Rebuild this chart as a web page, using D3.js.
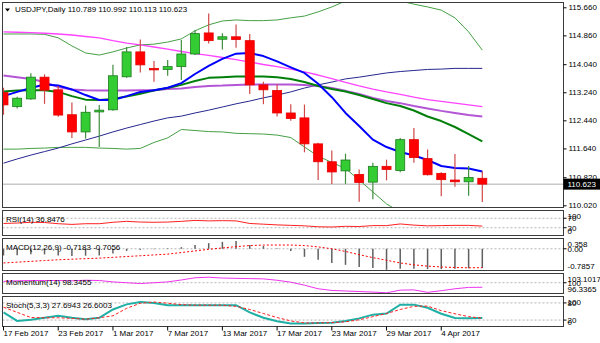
<!DOCTYPE html>
<html><head><meta charset="utf-8">
<script src="https://cdn.jsdelivr.net/npm/d3@7"></script>
<style>
html,body{margin:0;padding:0;background:#fff;}
svg{display:block;font-family:"Liberation Sans",Arial,sans-serif;font-size:8px;}
</style></head><body>
<svg id="chart" width="600" height="343"></svg>
<script>
// USDJPY daily bars
const dates = ["2017-02-17","2017-02-20","2017-02-21","2017-02-22","2017-02-23","2017-02-24","2017-02-27","2017-02-28",
  "2017-03-01","2017-03-02","2017-03-03","2017-03-06","2017-03-07","2017-03-08","2017-03-09","2017-03-10","2017-03-13",
  "2017-03-14","2017-03-15","2017-03-16","2017-03-17","2017-03-20","2017-03-21","2017-03-22","2017-03-23","2017-03-24",
  "2017-03-27","2017-03-28","2017-03-29","2017-03-30","2017-03-31","2017-04-03","2017-04-04","2017-04-05","2017-04-06","2017-04-07"];
const open  = [113.23,112.83,113.05,113.67,113.31,112.60,112.11,112.68,112.74,113.68,114.39,113.92,113.89,113.97,114.33,114.93,114.75,114.82,114.71,113.45,113.29,112.65,112.51,111.77,111.26,111.00,110.90,110.68,111.13,111.01,111.89,111.35,110.93,110.74,110.69,110.789];
const high  = [113.37,113.11,113.78,113.75,113.42,112.95,112.86,112.88,114.02,114.53,114.74,114.13,114.16,114.73,115.01,115.48,114.92,115.17,114.90,113.54,113.47,112.90,112.89,111.80,111.58,111.49,111.04,111.23,111.32,111.94,112.22,111.61,110.96,111.48,111.14,110.992];
const low   = [112.60,112.78,113.03,112.91,112.54,111.94,111.92,111.68,112.71,113.65,113.80,113.54,113.71,113.59,114.30,114.63,114.46,114.51,113.19,112.90,112.55,112.43,111.53,110.74,110.63,110.63,110.12,110.19,110.73,110.96,111.23,110.87,110.28,110.55,110.29,110.113];
const close = [112.88,113.07,113.67,113.30,112.59,112.11,112.67,112.73,113.71,114.39,114.02,113.88,113.97,114.33,114.91,114.71,114.82,114.74,113.45,113.31,112.65,112.49,111.77,111.26,110.97,111.31,110.67,111.13,111.04,111.89,111.38,110.89,110.75,110.69,110.81,110.623];

// moving averages and Bollinger bands
const maFast  = [113.13,113.25,113.36,113.46,113.43,113.32,113.16,113.02,113.02,113.13,113.25,113.30,113.37,113.50,113.76,113.99,114.19,114.34,114.36,114.27,114.12,113.95,113.79,113.48,113.10,112.65,112.28,111.89,111.68,111.54,111.44,111.31,111.14,111.08,111.07,110.98];
const maMid   = [113.26,113.29,113.30,113.30,113.25,113.13,113.03,113.02,113.05,113.12,113.20,113.29,113.36,113.45,113.56,113.65,113.67,113.69,113.69,113.69,113.67,113.62,113.53,113.42,113.33,113.26,113.16,113.05,112.93,112.85,112.72,112.55,112.42,112.25,112.05,111.84];
const maSlow  = [113.72,113.67,113.62,113.53,113.39,113.32,113.30,113.29,113.29,113.29,113.30,113.30,113.33,113.35,113.39,113.42,113.43,113.45,113.46,113.46,113.46,113.46,113.45,113.42,113.36,113.28,113.19,113.08,112.99,112.93,112.85,112.78,112.71,112.65,112.59,112.55];
const ma100   = [114.96,114.95,114.94,114.92,114.90,114.87,114.83,114.79,114.71,114.64,114.59,114.53,114.47,114.40,114.34,114.29,114.23,114.17,114.10,114.03,113.97,113.90,113.82,113.73,113.63,113.52,113.42,113.33,113.25,113.18,113.10,113.03,112.98,112.93,112.88,112.83];
const ma200   = [111.22,111.34,111.45,111.55,111.65,111.77,111.88,111.99,112.11,112.22,112.32,112.42,112.51,112.56,112.65,112.73,112.82,112.91,112.99,113.08,113.16,113.25,113.36,113.45,113.53,113.62,113.67,113.73,113.79,113.83,113.86,113.89,113.90,113.92,113.92,113.92];
const bbUpper = [114.90,114.90,114.90,114.89,114.79,114.56,114.36,114.30,114.39,114.50,114.59,114.61,114.67,114.76,114.99,115.16,115.27,115.30,115.28,115.28,115.30,115.36,115.41,115.53,115.67,115.84,115.93,115.95,115.93,115.84,115.75,115.67,115.58,115.36,114.96,114.44];
const bbLower = [111.62,111.62,111.64,111.65,111.67,111.67,111.67,111.65,111.64,111.62,111.64,111.81,111.94,112.18,112.15,112.12,112.11,112.07,112.06,112.05,112.02,111.95,111.68,111.42,111.24,111.07,110.74,110.40,110.06,109.83,109.69,109.43,109.26,109.14,109.14,109.24];

// oscillators
const rsi         = [48,50,53,52,47,44,47,47,53,57,54,53,54,57,61,59,60,59,48,45,42,40,38,34,33,36,35,39,39,46,41,38,39,40,40,36.8476];
const macdMain    = [-0.25,-0.24,-0.20,-0.21,-0.25,-0.27,-0.26,-0.25,-0.18,-0.08,-0.04,-0.02,0.02,0.06,0.14,0.21,0.26,0.29,0.14,0.10,0.02,-0.08,-0.30,-0.41,-0.53,-0.60,-0.68,-0.72,-0.7857,-0.75,-0.75,-0.76,-0.76,-0.75,-0.73,-0.7183];
const macdSignal  = [-0.53,-0.50,-0.47,-0.44,-0.41,-0.39,-0.37,-0.35,-0.32,-0.29,-0.26,-0.23,-0.20,-0.14,-0.08,-0.02,0.03,0.08,0.12,0.14,0.14,0.14,0.12,0.07,0.00,-0.10,-0.22,-0.33,-0.43,-0.53,-0.60,-0.65,-0.68,-0.70,-0.71,-0.7056];
const momentum    = [100.5,100.7,100.8,100.8,100.8,100.7,100.9,100.8,100.3,100.0,99.7,100.0,100.3,101.0,101.8,102.0,101.7,101.6,101.5,101.4,100.9,100.2,99.1,97.8,97.2,97.0,96.8,96.6,96.3365,97.3,97.4,96.5,97.1,97.8,98.3,98.3455];
const stochMain   = [47,17,21,28,35,28,23,28,57,75,83,80,72,72,72,72,72,72,47,28,16,8,8,10,11,17,26,39,43,74,74,63,42,27,26,27.6943];
const stochSignal = [65,47,29,28,28,26,23,28,35,61,79,83,79,74,72,72,72,68,57,43,29,17,10,10,11,14,21,32,43,57,68,69,53,42,32,26.6003];

// axis ticks
const priceTicks = [115.66,114.86,114.04,113.24,112.44,111.64,110.82,110.02];
const rsiTicks = {top:"100", bottom:"0", levels:[70,30]};
const macdTicks = {top:"0.358", bottom:"-0.7857", levels:[0]};
const momTicks = {top:"103.1017", bottom:"96.3365", levels:[100]};
const stochTicks = {top:"100", bottom:"0", levels:[80,20]};

const svg = d3.select("#chart");
const L = 2.5, R = 563.5;
const panels = {
  main:  {top:2.5,   bottom:207.5},
  rsi:   {top:210.5, bottom:235.5},
  macd:  {top:238.5, bottom:270.5},
  mom:   {top:273.5, bottom:293.5},
  stoch: {top:296.5, bottom:326.5}
};

const parse = d3.timeParse("%Y-%m-%d");
const fmtDate = d3.timeFormat("%-d %b %Y");
const x = d3.scalePoint().domain(dates).range([3.5, 482.3]);

const defs = svg.append("defs");
Object.entries(panels).forEach(([k,p]) => {
  defs.append("clipPath").attr("id","clip-"+k).append("rect")
    .attr("x",L+0.5).attr("y",p.top+0.5).attr("width",R-L-1).attr("height",p.bottom-p.top-1);
});

// panel frames
Object.values(panels).forEach(p => {
  svg.append("rect").attr("x",L).attr("y",p.top).attr("width",R-L).attr("height",p.bottom-p.top)
    .attr("fill","#fff").attr("stroke","#3c3c3c").attr("stroke-width",1);
});

// ---------- main price panel ----------
const y = d3.scaleLinear().domain([110.02,115.66]).range([205.3,7.3]);
const gMain = svg.append("g").attr("clip-path","url(#clip-main)");

// current price line
const lastClose = close[close.length-1];
gMain.append("line").attr("x1",L).attr("x2",R).attr("y1",y(lastClose)).attr("y2",y(lastClose))
  .attr("stroke","#c8c8c8").attr("stroke-width",1.5);

const lineGen = (sc, arr) => d3.line().x((d,i)=>x(dates[i])).y(d=>sc(d))(arr);
const mainLines = [
  {data:bbUpper, color:"#45a045", w:1},
  {data:bbLower, color:"#45a045", w:1},
  {data:ma200,   color:"#27278f", w:1},
  {data:ma100,   color:"#ff44ff", w:1.4},
  {data:maSlow,  color:"#b455d6", w:2},
  {data:maMid,   color:"#00800a", w:2},
  {data:maFast,  color:"#0000ff", w:2}
];
mainLines.forEach(s => {
  gMain.append("path").attr("d",lineGen(y,s.data)).attr("fill","none")
    .attr("stroke",s.color).attr("stroke-width",s.w).attr("stroke-linejoin","round");
});

// candles
const candles = dates.map((d,i)=>({d,o:open[i],h:high[i],l:low[i],c:close[i]}));
const gC = gMain.selectAll("g.candle").data(candles).join("g").attr("class","candle");
gC.append("line")
  .attr("x1",d=>x(d.d)).attr("x2",d=>x(d.d))
  .attr("y1",d=>y(d.h)).attr("y2",d=>y(d.l))
  .attr("stroke",d=>d.c>=d.o?"#3f8f3f":"#d04848").attr("stroke-width",1.2);
gC.append("rect")
  .attr("x",d=>x(d.d)-4.5).attr("width",9)
  .attr("y",d=>y(Math.max(d.o,d.c)))
  .attr("height",d=>Math.max(1.5,Math.abs(y(d.o)-y(d.c))))
  .attr("fill",d=>d.c>=d.o?"#33cc33":"#ff0000")
  .attr("stroke",d=>d.c>=d.o?"#1e7a1e":"#e60000").attr("stroke-width",0.8);

// price axis
const axY = svg.append("g").attr("transform",`translate(${R},0)`)
  .call(d3.axisRight(y).tickValues(priceTicks).tickSize(3).tickPadding(2).tickFormat(d3.format(".3f")));
axY.select(".domain").remove();
axY.selectAll("line").attr("stroke","#000");
axY.selectAll("text").attr("font-size",8).attr("font-family","Liberation Sans, Arial, sans-serif").attr("fill","#000");

// current price tag
svg.append("rect").attr("x",R).attr("y",y(lastClose)-5.5).attr("width",600-R).attr("height",11).attr("fill","#000");
svg.append("text").attr("x",R+4).attr("y",y(lastClose)+3).attr("fill","#fff").text(d3.format(".3f")(lastClose));

// title
const fmt3 = d3.format(".3f");
svg.append("path").attr("d","M5,8.5 L10,8.5 L7.5,11.5 Z").attr("fill","#000");
svg.append("text").attr("x",15).attr("y",12).attr("fill","#000")
  .text(`USDJPY,Daily ${fmt3(open[35])} ${fmt3(high[35])} ${fmt3(low[35])} ${fmt3(lastClose)}`);

// ---------- helper for sub panels ----------
function subPanel(key, domain, levels, labels) {
  const p = panels[key];
  const sc = d3.scaleLinear().domain(domain).range([p.bottom-0.7, p.top+0.7]);
  const g = svg.append("g").attr("clip-path",`url(#clip-${key})`);
  levels.forEach(v => {
    g.append("line").attr("x1",L).attr("x2",R).attr("y1",sc(v)).attr("y2",sc(v))
      .attr("stroke","#b4b4b4").attr("stroke-dasharray","2,2");
  });
  // right axis labels
  const ax = svg.append("g");
  ax.append("text").attr("x",R+4).attr("y",p.top+8).text(labels.top);
  labels.levels.forEach(v => {
    ax.append("text").attr("x",R+4).attr("y",sc(v)+3).text(v.toFixed(key==="macd"?2:0));
    ax.append("line").attr("x1",R).attr("x2",R+3).attr("y1",sc(v)).attr("y2",sc(v)).attr("stroke","#000");
  });
  ax.append("text").attr("x",R+4).attr("y",p.bottom-2).text(labels.bottom);
  return {sc, g, p};
}

// RSI
{
  const {sc,g,p} = subPanel("rsi",[0,100],[70,30],rsiTicks);
  g.append("path").attr("d",lineGen(sc,rsi)).attr("fill","none").attr("stroke","#ff2020").attr("stroke-width",1);
  svg.append("text").attr("x",6).attr("y",p.top+11).text(`RSI(14) ${rsi[rsi.length-1]}`);
}
// MACD
{
  const {sc,g,p} = subPanel("macd",[-0.7857,0.358],[0],macdTicks);
  g.selectAll("line.bar").data(macdMain).join("line").attr("class","bar")
    .attr("x1",(d,i)=>x(dates[i])).attr("x2",(d,i)=>x(dates[i]))
    .attr("y1",sc(0)).attr("y2",d=>sc(d)).attr("stroke","#606060").attr("stroke-width",1.5);
  g.append("path").attr("d",lineGen(sc,macdSignal)).attr("fill","none").attr("stroke","#ff0000")
    .attr("stroke-width",1).attr("stroke-dasharray","2,2");
  svg.append("text").attr("x",6).attr("y",p.top+11)
    .text(`MACD(12,26,9) ${macdMain[35]} ${macdSignal[35]}`);
}
// Momentum
{
  const {sc,g,p} = subPanel("mom",[96.3365,103.1017],[100],momTicks);
  g.append("path").attr("d",lineGen(sc,momentum)).attr("fill","none").attr("stroke","#ee33ee").attr("stroke-width",1);
  svg.append("text").attr("x",6).attr("y",p.top+11).text(`Momentum(14) ${momentum[35]}`);
}
// Stochastic
{
  const {sc,g,p} = subPanel("stoch",[0,100],[80,20],stochTicks);
  g.append("path").attr("d",lineGen(sc,stochMain)).attr("fill","none").attr("stroke","#1fafa5").attr("stroke-width",2);
  g.append("path").attr("d",lineGen(sc,stochSignal)).attr("fill","none").attr("stroke","#ff2020")
    .attr("stroke-width",1).attr("stroke-dasharray","3,2");
  svg.append("text").attr("x",6).attr("y",p.top+11)
    .text(`Stoch(5,3,3) ${stochMain[35]} ${stochSignal[35]}`);
}

// date axis
const dateTicks = dates.filter((d,i)=>i%4===0);
const gx = svg.append("g");
gx.selectAll("line").data(dateTicks).join("line")
  .attr("x1",d=>x(d)).attr("x2",d=>x(d)).attr("y1",panels.stoch.bottom).attr("y2",panels.stoch.bottom+4)
  .attr("stroke","#000");
gx.selectAll("text").data(dateTicks).join("text")
  .attr("x",d=>x(d)).attr("y",336).text(d=>fmtDate(parse(d)));
</script>
</body></html>
